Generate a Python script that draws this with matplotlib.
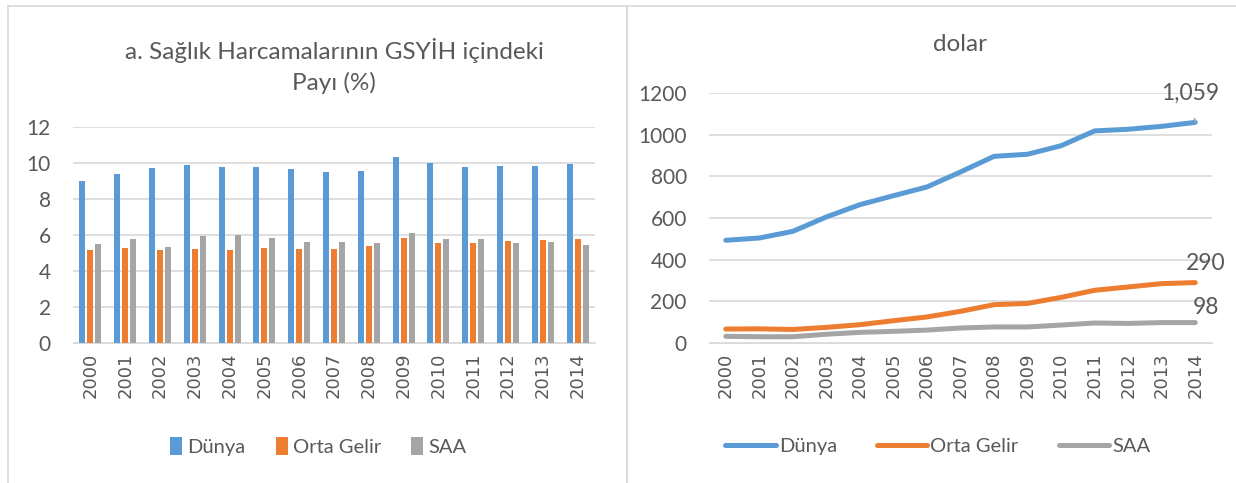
import matplotlib
matplotlib.use("Agg")
import matplotlib.pyplot as plt
from matplotlib.patches import Rectangle
import numpy as np

plt.rcParams['font.family'] = ['Lato', 'DejaVu Sans']

years = [str(y) for y in range(2000, 2015)]
series_names = ["Dünya", "Orta Gelir", "SAA"]

# share of GDP (%)
dunya_pct = [9.0, 9.4, 9.75, 9.9, 9.8, 9.78, 9.67, 9.52, 9.58, 10.36, 10.0, 9.8, 9.84, 9.82, 9.92]
orta_pct = [5.15, 5.26, 5.15, 5.22, 5.15, 5.3, 5.22, 5.22, 5.41, 5.85, 5.57, 5.54, 5.65, 5.74, 5.79]
saa_pct = [5.5, 5.78, 5.35, 5.96, 6.02, 5.83, 5.63, 5.61, 5.56, 6.11, 5.78, 5.78, 5.57, 5.63, 5.44]

# dollars
dunya_usd = [493, 504, 536, 605, 664, 707, 749, 821, 896, 906, 947, 1018, 1026, 1040, 1059]
orta_usd = [67, 68, 65, 75, 88, 107, 125, 152, 184, 190, 219, 253, 269, 285, 290]
saa_usd = [32, 30, 30, 42, 51, 56, 62, 72, 77, 77, 86, 96, 94, 98, 98]

colors = ["#5B9BD5", "#ED7D31", "#A5A5A5"]
text_col = "#595959"
grid_col = "#D9D9D9"

W, H = 1236, 483
fig = plt.figure(figsize=(W / 100, H / 100), dpi=100)

# panel frames
fig.patches.append(Rectangle((8 / W, -0.01), 619 / W, 1 - 6 / H + 0.01, transform=fig.transFigure,
                             fill=False, edgecolor=grid_col, lw=1.2))
fig.patches.append(Rectangle((627 / W, -0.01), 0.5, 1 - 6 / H + 0.01, transform=fig.transFigure,
                             fill=False, edgecolor=grid_col, lw=1.2))

def style_axes(ax):
    for s in ax.spines.values():
        s.set_visible(False)
    ax.spines['bottom'].set_visible(True)
    ax.spines['bottom'].set_color(grid_col)
    ax.yaxis.grid(True, color=grid_col, lw=1.2)
    ax.set_axisbelow(True)
    ax.tick_params(axis='both', length=0, colors=text_col)
    ax.tick_params(axis='y', labelsize=15, pad=16)
    ax.tick_params(axis='x', labelsize=13, rotation=90, pad=7)

# left: bars
ax1 = fig.add_axes([73 / W, 1 - 343 / H, 522 / W, 216 / H])
x = np.arange(len(years))
w = 0.17
for i, vals in enumerate([dunya_pct, orta_pct, saa_pct]):
    ax1.bar(x + (i - 1) * 0.23, vals, width=w, color=colors[i], label=series_names[i])
ax1.set_xlim(-0.5, len(years) - 0.5)
ax1.set_ylim(0, 12)
ax1.set_yticks(range(0, 13, 2))
ax1.set_xticks(x)
ax1.set_xticklabels(years, family='DejaVu Sans')
style_axes(ax1)
ax1.set_title("a. Sağlık Harcamalarının GSYİH içindeki\nPayı (%)", fontsize=17.5, color=text_col,
              pad=27, linespacing=1.45)
ax1.legend(loc='center', bbox_to_anchor=(0.47, -0.48), ncol=3, frameon=False, fontsize=14.5,
           labelcolor=text_col, handlelength=0.6, handleheight=1.0, handletextpad=0.25,
           columnspacing=1.5)

# right: lines
ax2 = fig.add_axes([709 / W, 1 - 343 / H, 503 / W, 250 / H])
for i, vals in enumerate([dunya_usd, orta_usd, saa_usd]):
    ax2.plot(x, vals, color=colors[i], lw=3.6, solid_capstyle='round', label=series_names[i])
ax2.set_xlim(-0.5, len(years) - 0.5)
ax2.set_ylim(0, 1200)
ax2.set_yticks(range(0, 1201, 200))
ax2.set_xticks(x)
ax2.set_xticklabels(years, family='DejaVu Sans')
style_axes(ax2)
ax2.set_title("dolar", fontsize=17.5, color=text_col, pad=30)

ax2.annotate(f"{dunya_usd[-1]:,}", xy=(x[-1], dunya_usd[-1]), xytext=(x[-1] - 0.15, 1200),
             fontsize=16.5, color=text_col, ha='center', va='center',
             arrowprops=dict(arrowstyle='-', color="#A5A5A5", lw=1.2, shrinkA=9, shrinkB=3))
ax2.text(x[-1] + 0.3, 384, str(orta_usd[-1]), fontsize=16.5, color=text_col,
         ha='center', va='center')
ax2.text(x[-1] + 0.33, 168, str(saa_usd[-1]), fontsize=16.5, color=text_col,
         ha='center', va='center')
ax2.legend(loc='center', bbox_to_anchor=(0.455, -0.415), ncol=3, frameon=False, fontsize=14.5,
           labelcolor=text_col, handlelength=2.5, handletextpad=0.15, columnspacing=2.0)

fig.savefig("out.png", dpi=100)
